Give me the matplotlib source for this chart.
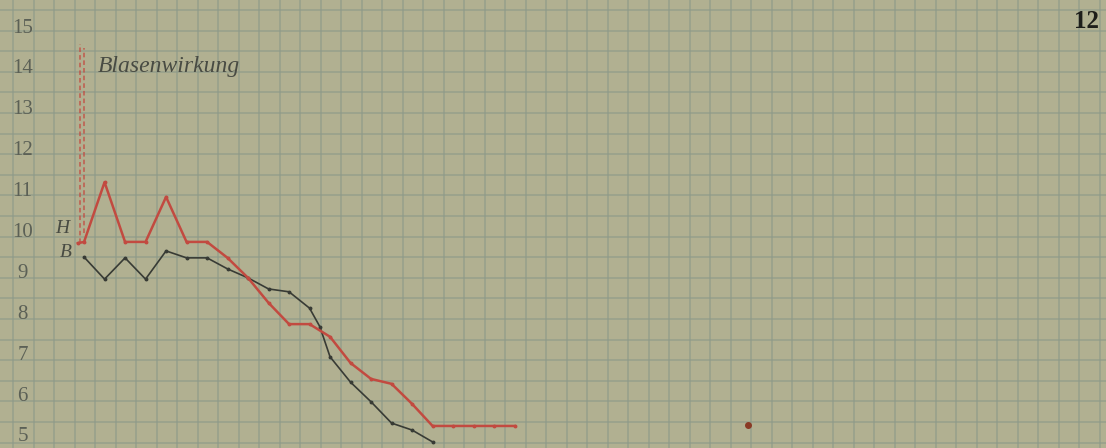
import matplotlib
matplotlib.use("Agg")
import matplotlib.pyplot as plt
import numpy as np

# curve H (red) and curve B (black), x in grid columns, y in scale units
red_x = [-0.3, 0, 1, 2, 3, 4, 5, 6, 7, 8, 9, 10, 11, 12, 13, 14, 15, 16, 17, 18, 19, 20, 21]
red_y = [9.74, 9.77, 11.23, 9.77, 9.77, 10.87, 9.77, 9.77, 9.38, 8.89, 8.28, 7.76, 7.76,
         7.45, 6.81, 6.42, 6.30, 5.81, 5.27, 5.27, 5.27, 5.27, 5.27]

black_x = [0, 1, 2, 3, 4, 5, 6, 7, 8, 9, 10, 11, 11.5, 12, 13, 14, 15, 16, 17]
black_y = [9.40, 8.86, 9.38, 8.86, 9.55, 9.38, 9.38, 9.11, 8.89, 8.62, 8.55, 8.15, 7.70,
           6.96, 6.34, 5.86, 5.34, 5.17, 4.88]

y_labels = [15, 14, 13, 12, 11, 10, 9, 8, 7, 6, 5]

# "Blasenwirkung" marker: two dashed red verticals
blase_x = [-0.2, 0.0]
blase_top = [14.6, 14.5]
blase_bottom = [9.74, 10.0]

stain_x = [32.4]
stain_y = [5.29]

paper = '#b1b091'
grid_col = '#8e9a89'
red = '#c24a40'
dark = '#383b35'

fig = plt.figure(figsize=(11.06, 4.48), dpi=100)
fig.patch.set_facecolor(paper)
ax = fig.add_axes([0, 0, 1, 1])
ax.set_facecolor(paper)

ax.set_xlim(-4.1, 49.85)
ax.set_ylim(4.731, 15.685)

# graph paper
ax.set_xticks(np.arange(-3.45, 50, 1.0))
ax.set_yticks(np.arange(15.44, 4.6, -0.5037))
ax.grid(True, color=grid_col, linewidth=1.2, alpha=0.7)
ax.tick_params(length=0, labelbottom=False, labelleft=False)
for s in ax.spines.values():
    s.set_visible(False)
ax.set_axisbelow(True)

# dashed vertical
for bx, bt, bb in zip(blase_x, blase_top, blase_bottom):
    ax.plot([bx, bx], [bb, bt], color=red, lw=1.1, linestyle=(0, (3, 2)), alpha=0.85)

ax.plot(black_x, black_y, color=dark, lw=1.2, marker='o', markersize=1.8)
ax.plot(red_x, red_y, color=red, lw=1.8, marker='o', markersize=1.8)
ax.plot(stain_x, stain_y, 'o', color='#8a3a25', markersize=4)

for v in y_labels:
    ax.text(-3.0, v, str(v), ha='center', va='center', fontsize=15,
            family='Liberation Serif', color='#5b6056')

ax.text(-1.05, 10.1, 'H', ha='center', va='center', fontsize=14, style='italic',
        family='Liberation Serif', color='#484b43')
ax.text(-0.9, 9.5, 'B', ha='center', va='center', fontsize=14, style='italic',
        family='Liberation Serif', color='#484b43')
ax.text(0.65, 14.05, 'Blasenwirkung', ha='left', va='center', fontsize=17, style='italic',
        family='Liberation Serif', color='#484b43')
ax.text(48.9, 15.15, '12', ha='center', va='center', fontsize=18, fontweight='bold',
        family='Liberation Serif', color='#1e1e1a')

fig.savefig('out.png', dpi=100, facecolor=paper)
